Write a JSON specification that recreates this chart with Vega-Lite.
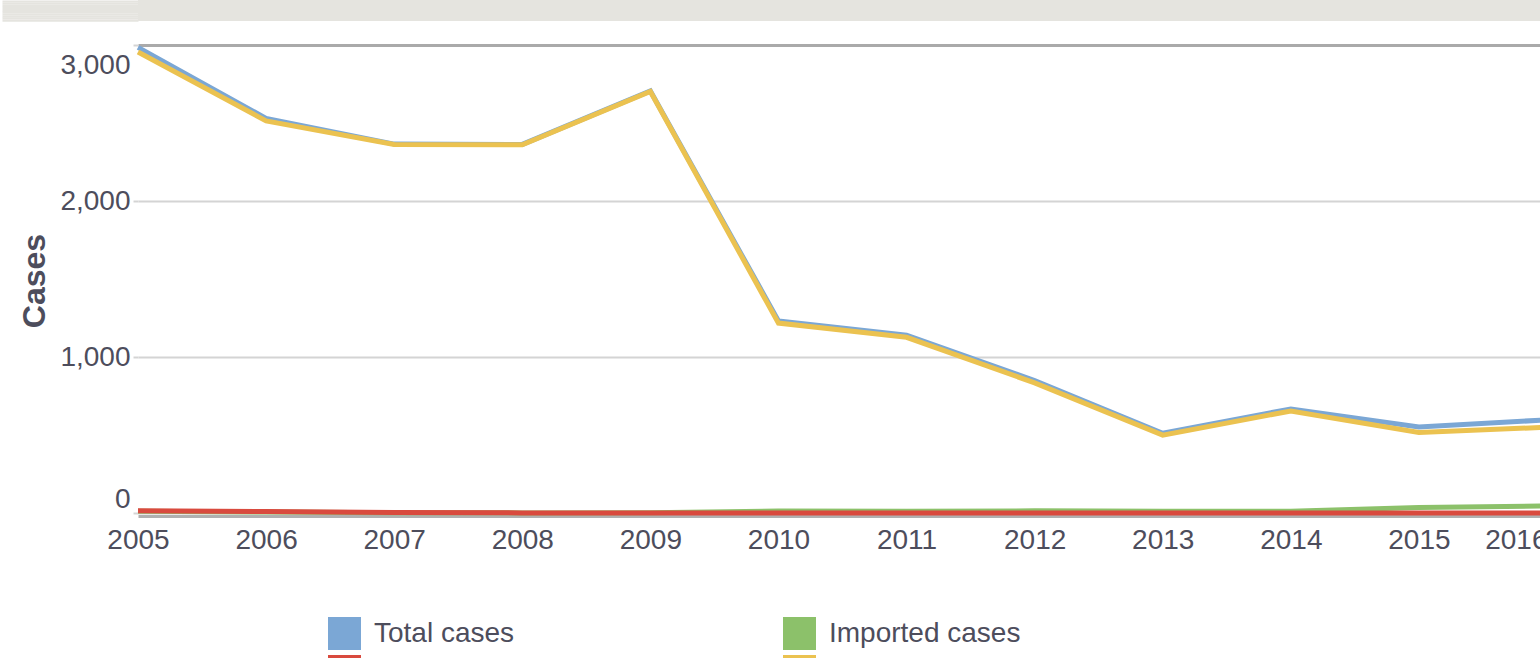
{
  "$schema": "https://vega.github.io/schema/vega-lite/v6.json",
  "padding": 0,
  "spacing": 15,
  "background": "white",
  "config": {
    "font": "Liberation Sans",
    "view": {"stroke": null}
  },
  "datasets": {
    "banner": [{"title": "Number of malaria cases", "pos": 0}],
    "cases": [
      {"year": 2005, "series": "Total cases", "cases": 2985},
      {"year": 2006, "series": "Total cases", "cases": 2530},
      {"year": 2007, "series": "Total cases", "cases": 2365},
      {"year": 2008, "series": "Total cases", "cases": 2363},
      {"year": 2009, "series": "Total cases", "cases": 2705},
      {"year": 2010, "series": "Total cases", "cases": 1232},
      {"year": 2011, "series": "Total cases", "cases": 1140},
      {"year": 2012, "series": "Total cases", "cases": 850},
      {"year": 2013, "series": "Total cases", "cases": 512},
      {"year": 2014, "series": "Total cases", "cases": 668},
      {"year": 2015, "series": "Total cases", "cases": 553},
      {"year": 2016, "series": "Total cases", "cases": 598},
      {"year": 2005, "series": "Imported cases", "cases": 12},
      {"year": 2006, "series": "Imported cases", "cases": 8},
      {"year": 2007, "series": "Imported cases", "cases": 3},
      {"year": 2008, "series": "Imported cases", "cases": 2},
      {"year": 2009, "series": "Imported cases", "cases": 3},
      {"year": 2010, "series": "Imported cases", "cases": 14},
      {"year": 2011, "series": "Imported cases", "cases": 13},
      {"year": 2012, "series": "Imported cases", "cases": 15},
      {"year": 2013, "series": "Imported cases", "cases": 12},
      {"year": 2014, "series": "Imported cases", "cases": 13},
      {"year": 2015, "series": "Imported cases", "cases": 36},
      {"year": 2016, "series": "Imported cases", "cases": 47},
      {"year": 2005, "series": "Deaths", "cases": 16},
      {"year": 2006, "series": "Deaths", "cases": 11},
      {"year": 2007, "series": "Deaths", "cases": 4},
      {"year": 2008, "series": "Deaths", "cases": 2},
      {"year": 2009, "series": "Deaths", "cases": 2},
      {"year": 2010, "series": "Deaths", "cases": 2},
      {"year": 2011, "series": "Deaths", "cases": 2},
      {"year": 2012, "series": "Deaths", "cases": 2},
      {"year": 2013, "series": "Deaths", "cases": 1},
      {"year": 2014, "series": "Deaths", "cases": 1},
      {"year": 2015, "series": "Deaths", "cases": 1},
      {"year": 2016, "series": "Deaths", "cases": 1},
      {"year": 2005, "series": "Indigenous cases", "cases": 2955},
      {"year": 2006, "series": "Indigenous cases", "cases": 2514},
      {"year": 2007, "series": "Indigenous cases", "cases": 2362},
      {"year": 2008, "series": "Indigenous cases", "cases": 2361},
      {"year": 2009, "series": "Indigenous cases", "cases": 2702},
      {"year": 2010, "series": "Indigenous cases", "cases": 1218},
      {"year": 2011, "series": "Indigenous cases", "cases": 1127},
      {"year": 2012, "series": "Indigenous cases", "cases": 835},
      {"year": 2013, "series": "Indigenous cases", "cases": 500},
      {"year": 2014, "series": "Indigenous cases", "cases": 655},
      {"year": 2015, "series": "Indigenous cases", "cases": 517},
      {"year": 2016, "series": "Indigenous cases", "cases": 551}
    ]
  },
  "vconcat": [
    {
      "width": 1409,
      "height": 21,
      "view": {"fill": "#e5e4df", "stroke": null},
      "data": {"name": "banner"},
      "mark": {"type": "text", "clip": true, "baseline": "alphabetic", "dy": -10.5, "dx": -54, "fontSize": 28, "fontWeight": "bold", "color": "#9b9b9b"},
      "encoding": {
        "text": {"field": "title"},
        "y": {
          "field": "pos",
          "type": "quantitative",
          "scale": {"domain": [-1, 1], "nice": false},
          "axis": {
            "values": [0.89, 0.69, 0.49, 0.29, 0.09, -0.11, -0.31, -0.51, -0.71, -0.91],
            "title": null,
            "labels": false,
            "domain": false,
            "grid": false,
            "ticks": true,
            "tickRound": false,
            "tickSize": 136,
            "tickWidth": 2.2,
            "tickCap": "butt",
            "tickColor": "#e5e4df",
            "labelPadding": 0
          }
        }
      }
    },
    {
      "width": 1409,
      "height": 471,
      "data": {"name": "cases"},
      "mark": {"type": "line", "strokeWidth": 5},
      "encoding": {
        "x": {
          "field": "year",
          "type": "quantitative",
          "scale": {"domain": [2005, 2016], "nice": false, "zero": false},
          "axis": {
            "values": [2005, 2006, 2007, 2008, 2009, 2010, 2011, 2012, 2013, 2014, 2015, 2016],
            "format": "d",
            "title": null,
            "grid": false,
            "ticks": false,
            "domain": true,
            "domainColor": "#b0b0b0",
            "domainWidth": 3,
            "labelFontSize": 28,
            "labelColor": "#4d4d5c",
            "labelPadding": 10,
            "labelAlign": {"condition": {"test": "datum.value == 2016", "value": "right"}, "value": "center"}
          }
        },
        "y": {
          "field": "cases",
          "type": "quantitative",
          "scale": {"domain": [-18, 3000], "nice": false, "zero": false},
          "axis": {
            "values": [0, 1000, 2000, 3000],
            "format": ",d",
            "title": "Cases",
            "titleFontSize": 32,
            "titleFontWeight": "bold",
            "titleColor": "#4d4d5c",
            "titlePadding": 8,
            "domain": false,
            "ticks": true,
            "tickSize": 5,
            "tickColor": "#d4d4d4",
            "tickWidth": 2,
            "labelPadding": 3,
            "labelFontSize": 28,
            "labelColor": "#4d4d5c",
            "gridColor": {"condition": {"test": "datum.value == 3000", "value": "#aaaaaa"}, "value": "#d4d4d4"},
            "gridWidth": {"condition": {"test": "datum.value == 3000", "value": 3}, "value": 2},
            "labelOffset": {"condition": [{"test": "datum.value == 3000", "value": 20}, {"test": "datum.value == 0", "value": -14}], "value": 0}
          }
        },
        "color": {
          "field": "series",
          "type": "nominal",
          "scale": {
            "domain": ["Total cases", "Imported cases", "Deaths", "Indigenous cases"],
            "range": ["#7ba7d5", "#8cc16a", "#d94a3e", "#ebc250"]
          },
          "legend": {
            "orient": "none",
            "direction": "horizontal",
            "legendX": 190,
            "legendY": 617,
            "columns": 2,
            "columnPadding": 268,
            "rowPadding": 5,
            "title": null,
            "padding": 0,
            "symbolType": "square",
            "symbolSize": 1089,
            "symbolStrokeWidth": 0,
            "labelFontSize": 28,
            "labelColor": "#4d4d5c",
            "labelOffset": 13,
            "labelLimit": 400,
            "encode": {"symbols": {"update": {"fill": {"scale": "color", "field": "value"}, "stroke": {"value": "transparent"}}}}
          }
        }
      }
    }
  ]
}
